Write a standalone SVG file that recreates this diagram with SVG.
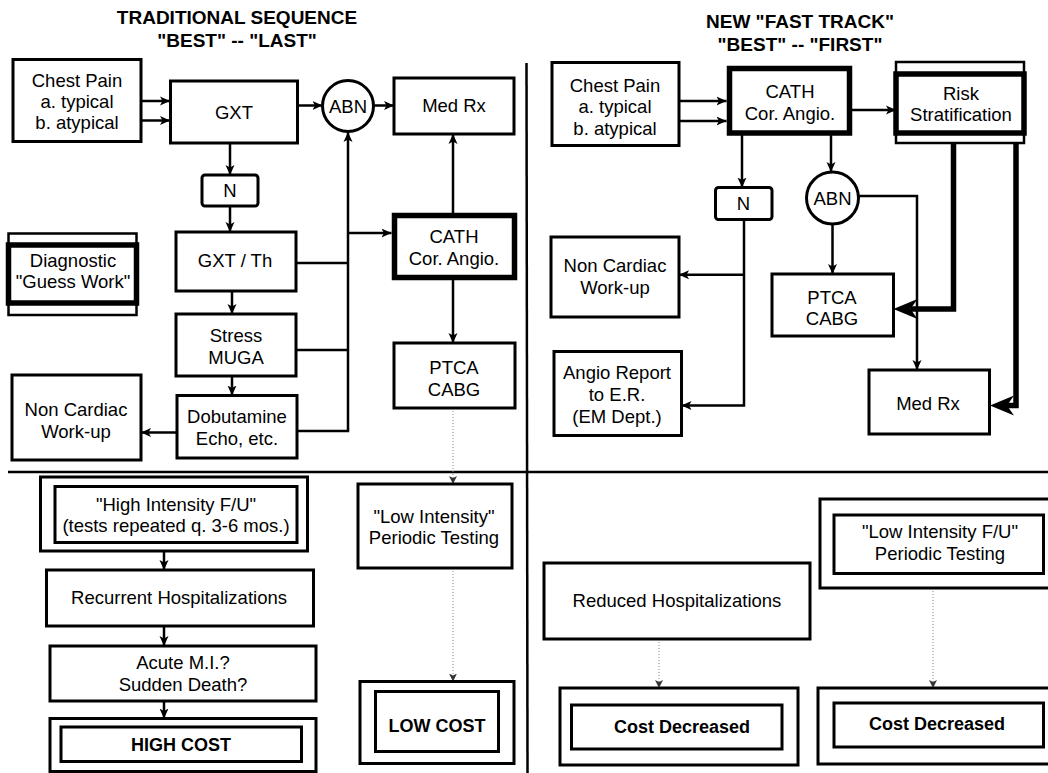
<svg xmlns="http://www.w3.org/2000/svg" width="1048" height="773" viewBox="0 0 1048 773">
<style>
.b{fill:#fff;stroke:#000;stroke-width:3}
.k{fill:#fff;stroke:#000;stroke-width:5.5}
.o{fill:#fff;stroke:#000;stroke-width:2.5}
.t{font-family:"Liberation Sans",Arial,sans-serif;font-size:18.5px;text-anchor:middle;fill:#000}
.tb{font-family:"Liberation Sans",Arial,sans-serif;font-size:18px;font-weight:bold;text-anchor:middle;fill:#000}
.h{font-family:"Liberation Sans",Arial,sans-serif;font-size:19px;font-weight:bold;text-anchor:middle;fill:#000}
.c{fill:none;stroke:#000;stroke-width:2.5}
.ca{fill:none;stroke:#000;stroke-width:2.5;marker-end:url(#ah)}
.ct{fill:none;stroke:#000;stroke-width:5.5;marker-end:url(#big)}
.d{fill:none;stroke:#888;stroke-width:1;stroke-dasharray:1 2;marker-end:url(#sm)}
.sep{fill:none;stroke:#000;stroke-width:2.5}
</style>
<defs>
<marker id="ah" markerUnits="userSpaceOnUse" viewBox="0 0 10 10" markerWidth="10" markerHeight="10" refX="10" refY="5" orient="auto"><path d="M0,0.5 L10,5 L0,9.5 L2.5,5 z" fill="#000"/></marker>
<marker id="big" markerUnits="userSpaceOnUse" viewBox="0 0 24 20" markerWidth="24" markerHeight="20" refX="7" refY="10" orient="auto"><path d="M0,0 L24,10 L0,20 L7,10 z" fill="#000"/></marker>
<marker id="sm" markerUnits="userSpaceOnUse" viewBox="0 0 8 8" markerWidth="8" markerHeight="8" refX="8" refY="4" orient="auto"><path d="M0,0 L8,4 L0,8 L2,4 z" fill="#333"/></marker>
</defs>

<g id="dividers">
<line class="sep" x1="526.5" y1="63" x2="527.5" y2="773"/>
<line class="sep" x1="8" y1="472" x2="1048" y2="472" stroke-width="2"/>
</g>

<g id="titles">
<text class="h" x="237" y="24">TRADITIONAL SEQUENCE</text>
<text class="h" x="237" y="47">"BEST" -- "LAST"</text>
<text class="h" x="800" y="27.5">NEW "FAST TRACK"</text>
<text class="h" x="800" y="50.5">"BEST" -- "FIRST"</text>
</g>

<g id="connectors">
<line class="ca" x1="141" y1="101" x2="170" y2="101"/>
<line class="ca" x1="141" y1="120.5" x2="170" y2="120.5"/>
<line class="ca" x1="297.5" y1="105.5" x2="322.5" y2="105.5"/>
<line class="ca" x1="373.5" y1="105.5" x2="394" y2="105.5"/>
<line class="ca" x1="230" y1="143" x2="230" y2="175"/>
<line class="ca" x1="230" y1="206" x2="230" y2="232"/>
<line class="ca" x1="348" y1="431" x2="348" y2="132"/>
<line class="c" x1="296" y1="263" x2="348" y2="263"/>
<line class="c" x1="296" y1="350" x2="348" y2="350"/>
<line class="c" x1="297" y1="431" x2="349.2" y2="431"/>
<line class="ca" x1="348" y1="233" x2="391.5" y2="233"/>
<line class="ca" x1="453" y1="213" x2="453" y2="134"/>
<line class="ca" x1="453" y1="280" x2="453" y2="343"/>
<line class="ca" x1="232" y1="291" x2="232" y2="314"/>
<line class="ca" x1="232" y1="376" x2="232" y2="395.5"/>
<line class="ca" x1="177" y1="432.5" x2="141" y2="432.5"/>
<line class="d" x1="453" y1="408" x2="453" y2="484"/>
<line class="d" x1="453" y1="568" x2="453" y2="681.5"/>
<line class="ca" x1="164" y1="551" x2="164" y2="570"/>
<line class="ca" x1="164" y1="626" x2="164" y2="646"/>
<line class="ca" x1="164" y1="701" x2="164" y2="718.5"/>

<line class="ca" x1="679" y1="101" x2="726.5" y2="101"/>
<line class="ca" x1="679" y1="121" x2="726.5" y2="121"/>
<line class="ca" x1="852" y1="110" x2="896" y2="110"/>
<line class="ca" x1="742" y1="135" x2="742" y2="187.5"/>
<line class="ca" x1="831" y1="135" x2="831" y2="172"/>
<line class="ca" x1="832.5" y1="224" x2="832.5" y2="274"/>
<path class="ca" d="M858.5,196 H917 V370"/>
<path class="ca" d="M744,219.5 V405.5 H681.5"/>
<path class="ca" d="M744,274.8 H679"/>
<path class="ct" d="M953.5,143 V309 H910.5"/>
<path class="ct" d="M1016,143 V405.5 H1007"/>
<line class="d" x1="659" y1="639" x2="659" y2="688"/>
<line class="d" x1="933" y1="588" x2="933" y2="688"/>
</g>

<g id="chest_l"><rect class="b" x="13" y="59.5" width="128" height="82"/>
<text class="t" x="77" y="86.7">Chest Pain</text><text class="t" x="77" y="107.7">a. typical</text><text class="t" x="77" y="128.5">b. atypical</text></g>
<g id="gxt"><rect class="b" x="170.5" y="81" width="127" height="62"/><text class="t" x="234" y="118.5">GXT</text></g>
<g id="abn_l"><circle class="b" cx="348" cy="106" r="25.5"/><text class="t" x="348" y="112.5">ABN</text></g>
<g id="medrx_l"><rect class="b" x="394" y="78" width="120" height="56"/><text class="t" x="454" y="112">Med Rx</text></g>
<g id="n_l"><rect class="b" x="202" y="175" width="56" height="31" rx="3"/><text class="t" x="230" y="197">N</text></g>
<g id="gxtth"><rect class="b" x="176" y="232" width="120" height="59"/><text class="t" x="235" y="267">GXT / Th</text></g>
<g id="diag"><rect class="o" x="8.5" y="233.5" width="128" height="81.5"/><rect class="k" x="8.5" y="245" width="128" height="58"/>
<text class="t" x="73" y="266.7">Diagnostic</text><text class="t" x="73" y="288.3">"Guess Work"</text></g>
<g id="stress"><rect class="b" x="176" y="314" width="120" height="62"/><text class="t" x="236" y="342">Stress</text><text class="t" x="236" y="364">MUGA</text></g>
<g id="dobut"><rect class="b" x="177" y="395.5" width="120" height="62.5"/><text class="t" x="237" y="422.5">Dobutamine</text><text class="t" x="237" y="444.5">Echo, etc.</text></g>
<g id="noncard_l"><rect class="b" x="12" y="375" width="129" height="85"/><text class="t" x="76" y="415.5">Non Cardiac</text><text class="t" x="76" y="437.5">Work-up</text></g>
<g id="cath_l"><rect class="k" x="394.5" y="215.5" width="120" height="62"/><text class="t" x="454" y="243">CATH</text><text class="t" x="454" y="265">Cor. Angio.</text></g>
<g id="ptca_l"><rect class="b" x="394" y="343" width="121" height="65"/><text class="t" x="454" y="373.5">PTCA</text><text class="t" x="454" y="395.5">CABG</text></g>
<g id="lowint"><rect class="b" x="358" y="484" width="154" height="84"/><text class="t" x="434" y="522.5">"Low Intensity"</text><text class="t" x="434" y="544">Periodic Testing</text></g>
<g id="lowcost"><rect class="b" x="360" y="681.5" width="154" height="82"/><rect class="b" x="375.5" y="691.5" width="123" height="60"/><text class="tb" x="437" y="732">LOW COST</text></g>
<g id="highint"><rect class="b" x="40.5" y="477" width="267" height="74"/><rect class="b" x="55" y="486.5" width="242" height="56"/>
<text class="t" x="176" y="510.7">"High Intensity F/U"</text><text class="t" x="176" y="531.7">(tests repeated q. 3-6 mos.)</text></g>
<g id="recurrent"><rect class="b" x="46.5" y="570" width="267" height="56"/><text class="t" x="179" y="604">Recurrent Hospitalizations</text></g>
<g id="acute"><rect class="b" x="50" y="646" width="266" height="55"/><text class="t" x="183" y="669">Acute M.I.?</text><text class="t" x="183" y="690.5">Sudden Death?</text></g>
<g id="highcost"><rect class="b" x="50" y="718.5" width="266" height="53"/><rect class="b" x="61" y="727" width="240.5" height="34.5"/><text class="tb" x="181" y="751">HIGH COST</text></g>

<g id="chest_r"><rect class="b" x="552" y="62.5" width="127" height="83"/>
<text class="t" x="615" y="92">Chest Pain</text><text class="t" x="615" y="113.3">a. typical</text><text class="t" x="615" y="135">b. atypical</text></g>
<g id="cath_r"><rect class="k" x="729.5" y="68.5" width="120" height="64.5"/><text class="t" x="790" y="98">CATH</text><text class="t" x="790" y="119.5">Cor. Angio.</text></g>
<g id="risk"><rect class="o" x="896" y="62" width="128" height="81"/><rect class="k" x="896" y="74" width="128" height="59"/>
<text class="t" x="961" y="100">Risk</text><text class="t" x="961" y="121">Stratification</text></g>
<g id="n_r"><rect class="b" x="715.5" y="187.5" width="56.5" height="32" rx="3"/><text class="t" x="743.5" y="210">N</text></g>
<g id="abn_r"><circle class="b" cx="832.5" cy="198" r="26"/><text class="t" x="832.5" y="205">ABN</text></g>
<g id="noncard_r"><rect class="b" x="551" y="237" width="128" height="80"/><text class="t" x="615" y="272">Non Cardiac</text><text class="t" x="615" y="294">Work-up</text></g>
<g id="angio"><rect class="b" x="554" y="351.5" width="127.5" height="84"/><text class="t" x="617" y="379.3">Angio Report</text><text class="t" x="617" y="400.6">to E.R.</text><text class="t" x="617" y="422.6">(EM Dept.)</text></g>
<g id="ptca_r"><rect class="b" x="772" y="274" width="121.5" height="62"/><text class="t" x="832" y="304">PTCA</text><text class="t" x="832" y="325">CABG</text></g>
<g id="medrx_r"><rect class="b" x="869" y="370" width="120.5" height="64"/><text class="t" x="928" y="410">Med Rx</text></g>
<g id="reduced"><rect class="b" x="544" y="563" width="266" height="76"/><text class="t" x="677" y="607">Reduced Hospitalizations</text></g>
<g id="lowfu"><rect class="b" x="820" y="499" width="240" height="89"/><rect class="b" x="834" y="515" width="209.5" height="58.5"/>
<text class="t" x="940" y="538.4">"Low Intensity F/U"</text><text class="t" x="940" y="559.7">Periodic Testing</text></g>
<g id="cost_l"><rect class="b" x="560" y="688" width="238" height="77"/><rect class="b" x="571.5" y="705" width="210.5" height="44"/><text class="tb" x="682" y="733">Cost Decreased</text></g>
<g id="cost_r"><rect class="b" x="818" y="688" width="240" height="76"/><rect class="b" x="834" y="703" width="209.5" height="44"/><text class="tb" x="937" y="730">Cost Decreased</text></g>
</svg>
